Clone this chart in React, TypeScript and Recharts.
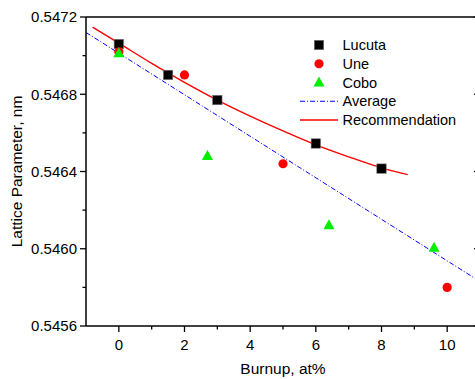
import { ComposedChart, Legend, Line, Scatter, XAxis, YAxis } from "recharts";

const FONT = "'Liberation Sans', Arial, sans-serif";

// burnup (at%) vs lattice parameter (nm)
const lucuta = [
  { x: 0, y: 0.54706 },
  { x: 1.5, y: 0.5469 },
  { x: 3, y: 0.54677 },
  { x: 6, y: 0.546545 },
  { x: 8, y: 0.546415 },
];
const une = [
  { x: 0, y: 0.54702 },
  { x: 2, y: 0.5469 },
  { x: 5, y: 0.54644 },
  { x: 10, y: 0.5458 },
];
const cobo = [
  { x: 0, y: 0.547012 },
  { x: 2.7, y: 0.54648 },
  { x: 6.4, y: 0.546122 },
  { x: 9.6, y: 0.546005 },
];
const average = [
  { x: -1, y: 0.54712 },
  { x: 11, y: 0.54583 },
];
const recommendation = [
  { x: -0.8, y: 0.547148 },
  { x: 0, y: 0.547065 },
  { x: 1, y: 0.54696 },
  { x: 2, y: 0.546862 },
  { x: 3, y: 0.54677 },
  { x: 4, y: 0.546687 },
  { x: 5, y: 0.54661 },
  { x: 6, y: 0.546538 },
  { x: 7, y: 0.546476 },
  { x: 8, y: 0.546419 },
  { x: 8.8, y: 0.546384 },
];

const xTicks = [-1, 0, 1, 2, 3, 4, 5, 6, 7, 8, 9, 10, 11];
const yTicks = [0.5456, 0.5458, 0.546, 0.5462, 0.5464, 0.5466, 0.5468, 0.547, 0.5472];

const isMajorX = (v: number) => v >= 0 && v % 2 === 0;
const isMajorY = (v: number) => Math.round(v * 10000) % 4 === 0;

function BottomTick({ x, y, payload }: any) {
  const v = payload.value;
  if (v <= -1 || v >= 11) return null;
  const major = isMajorX(v);
  return (
    <g>
      <line x1={x} x2={x} y1={y} y2={y + (major ? 6 : 3.5)} stroke="#000" strokeWidth={1.3} />
      {major && (
        <text x={x} y={y + 24} textAnchor="middle" fontSize={15} fontFamily={FONT} fill="#000">
          {v}
        </text>
      )}
    </g>
  );
}

function TopTick({ x, y, payload }: any) {
  const v = payload.value;
  if (v <= -1 || v >= 11) return null;
  return <line x1={x} x2={x} y1={y} y2={y + 6} stroke="#000" strokeWidth={1.3} />;
}

function LeftTick({ x, y, payload }: any) {
  const v = payload.value;
  const major = isMajorY(v);
  return (
    <g>
      <line x1={x} x2={x - (major ? 6 : 3.5)} y1={y} y2={y} stroke="#000" strokeWidth={1.3} />
      {major && (
        <text x={x - 9} y={y} dy="0.36em" textAnchor="end" fontSize={15} fontFamily={FONT} fill="#000">
          {v.toFixed(4)}
        </text>
      )}
    </g>
  );
}

function RightTick({ x, y, payload }: any) {
  const major = isMajorY(payload.value);
  return <line x1={x} x2={x - (major ? 6 : 3.5)} y1={y} y2={y} stroke="#000" strokeWidth={1.3} />;
}

const Square = ({ cx, cy }: any) => (
  <rect x={cx - 4.7} y={cy - 4.7} width={9.4} height={9.4} fill="#000" stroke="#777" strokeWidth={0.6} />
);
const Circle = ({ cx, cy }: any) => <circle cx={cx} cy={cy} r={4.6} fill="#ff0000" />;
const Triangle = ({ cx, cy }: any) => (
  <polygon points={`${cx},${cy - 6} ${cx + 5.5},${cy + 4} ${cx - 5.5},${cy + 4}`} fill="#00ee00" />
);

function LegendBox() {
  const rows = ["Lucuta", "Une", "Cobo", "Average", "Recommendation"];
  return (
    <svg width={180} height={100} style={{ display: "block" }}>
      {rows.map((name, i) => {
        const y = 10 + i * 18.75;
        let mark = null;
        if (i === 0) mark = <Square cx={29} cy={y} />;
        if (i === 1) mark = <Circle cx={29} cy={y} />;
        if (i === 2) mark = <Triangle cx={29} cy={y} />;
        if (i === 3)
          mark = <line x1={10} x2={48} y1={y} y2={y} stroke="#0000ff" strokeDasharray="5 2 1 2" />;
        if (i === 4) mark = <line x1={10} x2={48} y1={y} y2={y} stroke="#ff0000" strokeWidth={1.3} />;
        return (
          <g key={name}>
            {mark}
            <text x={52.5} y={y} dy="0.36em" fontSize={14.5} fontFamily={FONT} fill="#000">
              {name}
            </text>
          </g>
        );
      })}
    </svg>
  );
}

export default function App() {
  return (
    <div style={{ position: "absolute", left: 0, top: 0, background: "#fff" }}>
      <ComposedChart width={500} height={379} margin={{ top: 0, right: 0, bottom: 0, left: 0 }}>
        <XAxis
          dataKey="x"
          type="number"
          domain={[-1, 11]}
          ticks={xTicks}
          allowDataOverflow
          height={53}
          tickSize={0}
          tickMargin={0}
          tick={<BottomTick />}
          axisLine={{ stroke: "#000", strokeWidth: 1.5 }}
          label={{ value: "Burnup, at%", position: "insideBottom", offset: 5, fontSize: 15.5, fontFamily: FONT, fill: "#000" }}
        />
        <XAxis
          xAxisId="top"
          orientation="top"
          type="number"
          domain={[-1, 11]}
          ticks={xTicks}
          allowDataOverflow
          height={17}
          tickSize={0}
          tickMargin={0}
          tick={<TopTick />}
          axisLine={{ stroke: "#000", strokeWidth: 1.5 }}
        />
        <YAxis
          type="number"
          domain={[0.5456, 0.5472]}
          ticks={yTicks}
          allowDataOverflow
          width={86}
          tickSize={0}
          tickMargin={0}
          tick={<LeftTick />}
          axisLine={{ stroke: "#000", strokeWidth: 1.5 }}
          label={{ value: "Lattice Parameter, nm", angle: -90, position: "insideLeft", offset: 16, fontSize: 15.5, fontFamily: FONT, fill: "#000", style: { textAnchor: "middle" } }}
        />
        <YAxis
          yAxisId="right"
          orientation="right"
          type="number"
          domain={[0.5456, 0.5472]}
          ticks={yTicks}
          allowDataOverflow
          width={20}
          tickSize={0}
          tickMargin={0}
          tick={<RightTick />}
          axisLine={{ stroke: "#000", strokeWidth: 1.5 }}
        />
        <Scatter name="Lucuta" data={lucuta} dataKey="y" shape={<Square />} isAnimationActive={false} />
        <Scatter name="Une" data={une} dataKey="y" shape={<Circle />} isAnimationActive={false} />
        <Scatter name="Cobo" data={cobo} dataKey="y" shape={<Triangle />} isAnimationActive={false} />
        <Line
          name="Average"
          data={average}
          dataKey="y"
          type="linear"
          stroke="#0000ff"
          strokeWidth={1}
          strokeDasharray="5 2 1 2"
          dot={false}
          isAnimationActive={false}
        />
        <Line
          name="Recommendation"
          data={recommendation}
          dataKey="y"
          type="monotone"
          stroke="#ff0000"
          strokeWidth={1.4}
          dot={false}
          isAnimationActive={false}
        />
        <Legend
          layout="vertical"
          align="center"
          verticalAlign="middle"
          content={<LegendBox />}
          wrapperStyle={{ left: 290, top: 35, width: 180 }}
        />
      </ComposedChart>
    </div>
  );
}
